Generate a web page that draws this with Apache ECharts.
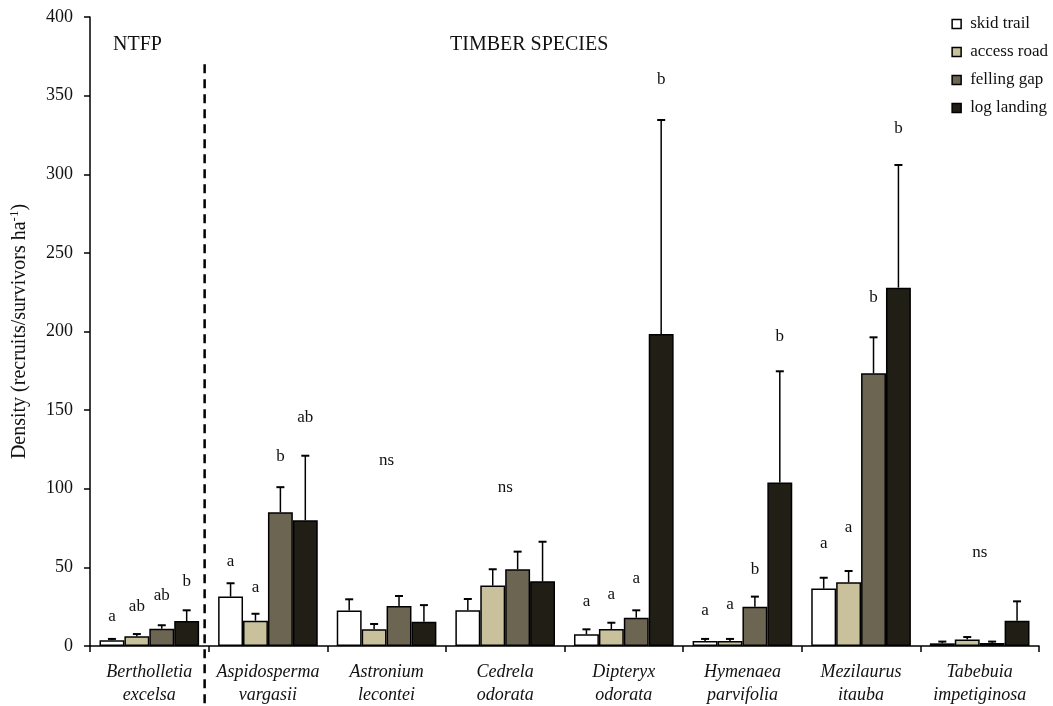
<!DOCTYPE html>
<html>
<head>
<meta charset="utf-8">
<script src="https://cdn.jsdelivr.net/npm/echarts@6/dist/echarts.min.js"></script>
<style>
  html, body { margin: 0; padding: 0; background: #fff; }
  #chart { width: 1053px; height: 706px; }
</style>
</head>
<body>
<div id="chart"></div>
<script>
// Seedling density per species and logging-disturbance type (mean + SE)
const categories = [
  'Bertholletia\nexcelsa', 'Aspidosperma\nvargasii', 'Astronium\nlecontei', 'Cedrela\nodorata',
  'Dipteryx\nodorata', 'Hymenaea\nparvifolia', 'Mezilaurus\nitauba', 'Tabebuia\nimpetiginosa'
];
const seriesNames = ['skid trail', 'access road', 'felling gap', 'log landing'];

const skidTrail   = [3.6, 31.4, 22.5, 22.7, 7.4, 3.2, 36.5, 1.7];
const accessRoad  = [6.2, 16.1, 10.6, 38.4, 10.8, 3.2, 40.5, 4.2];
const fellingGap  = [11.0, 85.0, 25.4, 48.8, 18.0, 25.0, 173.4, 1.9];
const logLanding  = [15.9, 80.0, 15.5, 41.1, 198.4, 103.9, 227.9, 16.1];

// standard errors (upper whisker length)
const skidTrailSE  = [0.9, 8.5, 7.2, 7.2, 3.2, 1.3, 6.9, 1.1];
const accessRoadSE = [1.4, 4.4, 3.4, 10.4, 4.0, 1.3, 7.2, 1.5];
const fellingGapSE = [2.2, 16.0, 6.4, 11.2, 4.7, 6.4, 22.9, 0.9];
const logLandingSE = [6.8, 41.0, 10.5, 25.2, 136.1, 70.8, 78.0, 12.3];

// significance letters (null = none) and the density level each one sits at
const skidTrailSig  = ['a', 'a', null, null, 'a', 'a', 'a', null];
const accessRoadSig = ['ab', 'a', null, null, 'a', 'a', 'a', null];
const fellingGapSig = ['ab', 'b', null, null, 'a', 'b', 'b', null];
const logLandingSig = ['b', 'ab', null, null, 'b', 'b', 'b', null];
const skidTrailSigAt  = [19, 54, null, null, 28, 22.5, 65.3, null];
const accessRoadSigAt = [25.4, 37.3, null, null, 32.9, 26.5, 75.5, null];
const fellingGapSigAt = [31.8, 120.8, null, null, 43.2, 48.8, 221.7, null];
const logLandingSigAt = [40.9, 145, null, null, 360, 196.7, 329, null];
// species with no significant difference
const speciesSig   = [null, null, 'ns', 'ns', null, null, null, 'ns'];
const speciesSigAt = [null, null, 118, 101, null, null, null, 59.6];

const yTicks = [0, 50, 100, 150, 200, 250, 300, 350, 400];

const means = [skidTrail, accessRoad, fellingGap, logLanding];
const ses = [skidTrailSE, accessRoadSE, fellingGapSE, logLandingSE];
const sigs = [skidTrailSig, accessRoadSig, fellingGapSig, logLandingSig];
const sigAt = [skidTrailSigAt, accessRoadSigAt, fellingGapSigAt, logLandingSigAt];
const colors = ['#ffffff', '#c9c19c', '#6b6552', '#201e15'];

const SERIF = '"Liberation Serif", "Times New Roman", serif';
const GAP = 0.16;              // barCategoryGap
const NB = seriesNames.length;

// x offset (fraction of band width) of bar k inside its category
function barOffset(k) {
  const bw = (1 - GAP) / NB;
  return (k - (NB - 1) / 2) * bw;
}

const errData = [];
const letterData = [];
means.forEach((arr, k) => {
  arr.forEach((v, i) => {
    errData.push([i, v, v + ses[k][i], k]);
    if (sigs[k][i]) letterData.push([i, sigAt[k][i], k, sigs[k][i]]);
  });
});
speciesSig.forEach((s, i) => {
  if (s) letterData.push([i, speciesSigAt[i], -1, s]);
});

const barSeries = seriesNames.map((name, k) => ({
  name: name,
  type: 'bar',
  data: means[k],
  barGap: 0,
  barCategoryGap: (GAP * 100) + '%',
  itemStyle: { color: colors[k], borderColor: '#000', borderWidth: 1.5 },
  z: 2
}));

const errSeries = {
  type: 'custom',
  name: 'se',
  data: errData,
  encode: { x: 0, y: [1, 2] },
  z: 5,
  silent: true,
  renderItem: function (params, api) {
    const i = api.value(0);
    const k = api.value(3);
    const band = api.size([1, 0])[0];
    const base = api.coord([i, api.value(1)]);
    const top = api.coord([i, api.value(2)]);
    const x = base[0] + barOffset(k) * band;
    return {
      type: 'group',
      children: [
        { type: 'line', shape: { x1: x, y1: base[1], x2: x, y2: top[1] },
          style: { stroke: '#000', lineWidth: 1.5 } },
        { type: 'line', shape: { x1: x - 4, y1: top[1], x2: x + 4, y2: top[1] },
          style: { stroke: '#000', lineWidth: 2 } }
      ]
    };
  }
};

const letterSeries = {
  type: 'custom',
  name: 'sig',
  data: letterData,
  encode: { x: 0, y: 1 },
  z: 6,
  silent: true,
  renderItem: function (params, api) {
    const i = api.value(0);
    const k = api.value(2);
    const band = api.size([1, 0])[0];
    const p = api.coord([i, api.value(1)]);
    const x = k >= 0 ? p[0] + barOffset(k) * band : p[0];
    return {
      type: 'text',
      x: x, y: p[1],
      style: {
        text: letterData[params.dataIndex][3],
        fill: '#111',
        font: '17px ' + SERIF,
        align: 'center',
        verticalAlign: 'middle'
      }
    };
  }
};

const chart = echarts.init(document.getElementById('chart'), null, { renderer: 'canvas' });

chart.setOption({
  backgroundColor: '#fff',
  animation: false,
  grid: { left: 90, right: 14, top: 17, bottom: 60, containLabel: false, outerBoundsMode: 'none' },
  legend: {
    data: seriesNames,
    orient: 'vertical',
    right: 0,
    top: 10,
    itemWidth: 9,
    itemHeight: 9,
    itemGap: 10,
    icon: 'rect',
    itemStyle: { borderColor: '#000', borderWidth: 1.5 },
    textStyle: { fontFamily: SERIF, fontSize: 17, color: '#111', lineHeight: 18, padding: [0, 0, 0, 4] }
  },
  xAxis: {
    type: 'category',
    data: categories,
    axisLine: { lineStyle: { color: '#000', width: 1.5 } },
    axisTick: { show: true, length: 6, lineStyle: { color: '#000', width: 1.5 } },
    axisLabel: {
      interval: 0,
      margin: 15,
      fontFamily: SERIF,
      fontStyle: 'italic',
      fontSize: 18,
      lineHeight: 23,
      color: '#111'
    },
    splitLine: { show: false }
  },
  yAxis: {
    type: 'value',
    min: yTicks[0],
    max: yTicks[yTicks.length - 1],
    interval: yTicks[1] - yTicks[0],
    name: '{n|Density (recruits/survivors ha}{s|-1}{n|)}',
    nameLocation: 'middle',
    nameRotate: 90,
    nameGap: 60,
    nameTextStyle: {
      rich: {
        n: { fontFamily: SERIF, fontSize: 20, color: '#111', lineHeight: 22, verticalAlign: 'bottom' },
        s: { fontFamily: SERIF, fontSize: 13, color: '#111', lineHeight: 22, verticalAlign: 'top' }
      }
    },
    axisLine: { show: true, lineStyle: { color: '#000', width: 1.5 } },
    axisTick: { show: true, length: 6, lineStyle: { color: '#000', width: 1.5 } },
    axisLabel: { margin: 17, fontFamily: SERIF, fontSize: 18, color: '#111' },
    splitLine: { show: false }
  },
  series: barSeries.concat([errSeries, letterSeries])
});

// divider between the non-timber species and the timber species, plus group headings
const leftCenter = chart.convertToPixel({ xAxisIndex: 0 }, 0);
const nextCenter = chart.convertToPixel({ xAxisIndex: 0 }, 1);
const dividerX = (leftCenter + nextCenter) / 2 - 4;
const dividerTop = chart.convertToPixel({ yAxisIndex: 0 }, 370);

chart.setOption({
  graphic: [
    {
      type: 'line',
      shape: { x1: dividerX, y1: dividerTop, x2: dividerX, y2: 704 },
      style: { stroke: '#000', lineWidth: 2.5, lineDash: [9, 6] },
      z: 10
    },
    {
      type: 'text', left: 113, top: 35,
      style: { text: 'NTFP', font: '20px ' + SERIF, fill: '#111' }
    },
    {
      type: 'text', left: 450, top: 35,
      style: { text: 'TIMBER SPECIES', font: '20px ' + SERIF, fill: '#111' }
    }
  ]
});
</script>
</body>
</html>
